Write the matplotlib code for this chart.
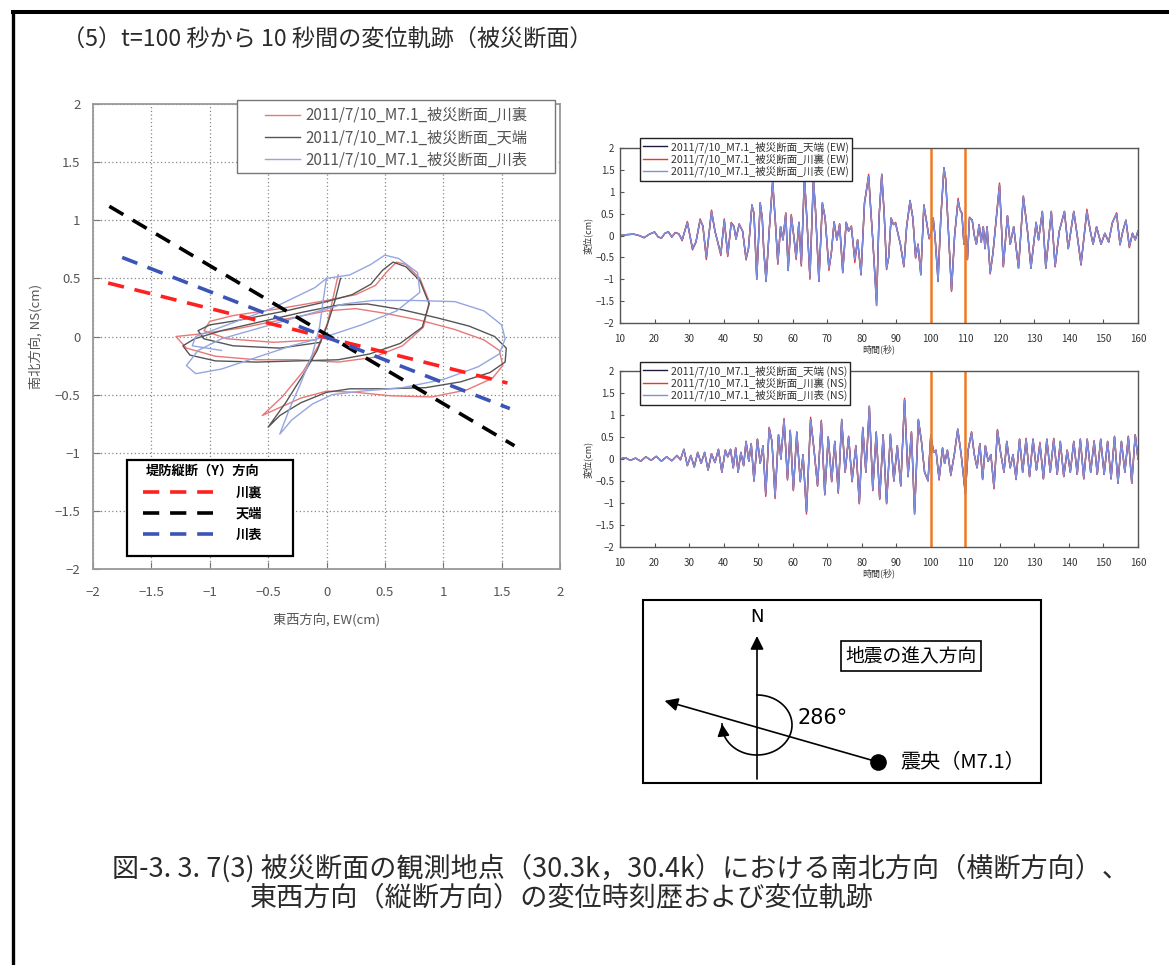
import numpy as np
import matplotlib
matplotlib.use('Agg')
import matplotlib.pyplot as plt
from matplotlib.lines import Line2D
from matplotlib.patches import Rectangle
from matplotlib.ticker import FuncFormatter, MultipleLocator

plt.rcParams['font.family'] = ['Noto Sans CJK JP', 'DejaVu Sans']
plt.rcParams['axes.unicode_minus'] = True

# ---------------- data ----------------
labels_traj = ['2011/7/10_M7.1_被災断面_川裏', '2011/7/10_M7.1_被災断面_天端', '2011/7/10_M7.1_被災断面_川表']
labels_dir = ['川裏', '天端', '川表']
dir_title = '堤防縦断（Y）方向'

# displacement trajectories t=100..110 s (EW, NS) [cm]
traj_kawaura_x = [0.10, 0.06, 0.01, -0.07, -0.20, -0.38, -0.55, -0.42, -0.22, 0.00, 0.25, 0.55, 0.90, 1.20,
                  1.42, 1.51, 1.48, 1.35, 1.10, 0.80, 0.50, 0.25, 0.00, -0.35, -0.75, -1.10, -1.29, -1.20,
                  -0.95, -0.60, -0.25, 0.10, 0.40, 0.65, 0.83, 0.88, 0.80, 0.68, 0.60, 0.52, 0.42, 0.25,
                  0.00, -0.40, -0.80, -1.00, -1.05, -0.85, -0.45, -0.10]
traj_kawaura_y = [0.53, 0.35, 0.12, -0.08, -0.30, -0.52, -0.68, -0.62, -0.53, -0.47, -0.48, -0.51, -0.52, -0.46,
                  -0.36, -0.25, -0.12, -0.03, 0.06, 0.14, 0.20, 0.24, 0.22, 0.15, 0.07, 0.02, 0.00, -0.10,
                  -0.17, -0.20, -0.20, -0.22, -0.18, -0.08, 0.08, 0.30, 0.50, 0.62, 0.64, 0.56, 0.44, 0.36,
                  0.31, 0.24, 0.18, 0.13, 0.05, -0.02, -0.05, -0.03]
traj_tenba_x = [0.12, 0.07, 0.00, -0.08, -0.20, -0.35, -0.50, -0.40, -0.22, 0.00, 0.20, 0.50, 0.85, 1.15,
                1.40, 1.53, 1.54, 1.44, 1.22, 0.95, 0.65, 0.35, 0.10, -0.20, -0.55, -0.90, -1.13, -1.23,
                -1.17, -0.95, -0.60, -0.25, 0.10, 0.37, 0.63, 0.82, 0.88, 0.80, 0.68, 0.57, 0.48, 0.38,
                0.22, 0.00, -0.35, -0.75, -1.00, -1.10, -1.05, -0.80, -0.40, -0.05]
traj_tenba_y = [0.50, 0.30, 0.08, -0.12, -0.33, -0.57, -0.78, -0.68, -0.57, -0.48, -0.45, -0.45, -0.44, -0.39,
                -0.31, -0.22, -0.10, 0.00, 0.09, 0.16, 0.23, 0.28, 0.27, 0.21, 0.13, 0.05, -0.02, -0.08,
                -0.16, -0.21, -0.22, -0.21, -0.20, -0.15, -0.06, 0.08, 0.28, 0.48, 0.60, 0.64, 0.57, 0.45,
                0.36, 0.30, 0.22, 0.14, 0.10, 0.05, -0.02, -0.08, -0.10, -0.05]
traj_kawaomote_x = [0.00, -0.03, -0.06, -0.12, -0.22, -0.32, -0.40, -0.30, -0.12, 0.05, 0.30, 0.65, 1.00, 1.30,
                    1.48, 1.53, 1.50, 1.35, 1.10, 0.75, 0.40, 0.15, -0.20, -0.55, -0.90, -1.10, -1.20, -1.12,
                    -0.90, -0.60, -0.30, 0.00, 0.30, 0.60, 0.80, 0.78, 0.62, 0.50, 0.38, 0.20, 0.00, -0.10,
                    -0.45, -0.85, -1.12, -1.15, -0.90]
traj_kawaomote_y = [0.50, 0.30, 0.08, -0.15, -0.40, -0.63, -0.84, -0.72, -0.58, -0.50, -0.47, -0.44, -0.37, -0.26,
                    -0.15, -0.02, 0.10, 0.22, 0.30, 0.31, 0.31, 0.28, 0.18, 0.08, -0.02, -0.12, -0.25, -0.32,
                    -0.28, -0.18, -0.08, 0.00, 0.10, 0.22, 0.38, 0.55, 0.67, 0.70, 0.62, 0.53, 0.50, 0.42,
                    0.25, 0.10, 0.00, -0.08, -0.12]

# embankment longitudinal (Y) direction lines: endpoints (EW, NS)
dir_kawaura_x = [-1.87, 1.55]
dir_kawaura_y = [0.46, -0.40]
dir_tenba_x = [-1.86, 1.61]
dir_tenba_y = [1.12, -0.94]
dir_kawaomote_x = [-1.75, 1.57]
dir_kawaomote_y = [0.68, -0.62]

# time histories
labels_ew = ['2011/7/10_M7.1_被災断面_天端 (EW)', '2011/7/10_M7.1_被災断面_川裏 (EW)', '2011/7/10_M7.1_被災断面_川表 (EW)']
labels_ns = ['2011/7/10_M7.1_被災断面_天端 (NS)', '2011/7/10_M7.1_被災断面_川裏 (NS)', '2011/7/10_M7.1_被災断面_川表 (NS)']
window = [100, 110]

t_ew = [10, 12, 14, 15.5, 17, 18.5, 20, 21, 22, 23,
        24, 25, 26, 27, 28, 29.5, 31, 32, 33.2, 34,
        35, 36.5, 37.5, 38.3, 39.2, 40.2, 41.2, 42.2, 43, 43.6,
        44.5, 45.5, 46.5, 47.2, 48.2, 48.8, 49.6, 50.6, 51.2, 51.6,
        52.3, 53.2, 54.2, 55, 55.7, 56.5, 57.2, 58, 58.7, 59.6,
        60.3, 61, 61.8, 62.5, 63.4, 64.1, 65, 66, 66.6, 67.6,
        68.6, 69.4, 70.5, 71.2, 72, 72.8, 73.6, 74.5, 75.5, 76.2,
        77, 78, 78.8, 79.8, 80.8, 82, 82.6, 83.2, 84.3, 85,
        85.8, 86.5, 87.2, 87.8, 88.5, 89.2, 89.8, 90.6, 91.2, 92.2,
        93, 94, 94.8, 95.6, 96.3, 97.1, 98, 98.8, 99.5, 100.1,
        100.7, 101.2, 102.1, 102.9, 103.8, 104.3, 105.1, 106, 106.9, 107.9,
        108.4, 109, 109.6, 110.1, 110.6, 111.2, 112, 112.6, 113.2, 114,
        114.6, 115.2, 115.7, 116.3, 117.2, 118, 119.9, 121, 122.2, 123,
        124, 125.4, 126.8, 128, 129, 130.5, 131.2, 132.3, 133.3, 134.9,
        136, 137.2, 138.7, 139.8, 141.4, 142.4, 143.5, 145.2, 146.2, 147,
        148, 149.3, 150.4, 151.5, 152.6, 153.8, 154.8, 155.6, 156.5, 157.5,
        158.4, 159.2, 160]
ew_tenba = [0.00, 0.02, 0.03, 0.00, -0.05, 0.03, 0.08, -0.03, -0.06, 0.05,
            0.08, -0.03, 0.06, 0.04, -0.10, 0.30, -0.30, -0.15, 0.35, 0.22,
            -0.50, 0.55, 0.10, -0.15, -0.42, 0.35, -0.45, 0.28, 0.20, -0.08,
            0.25, 0.10, -0.52, -0.30, 0.70, 0.50, -1.00, 0.75, 0.40, -0.30,
            -1.05, 0.10, 1.25, 0.30, -0.62, 0.20, -0.10, 0.50, -0.80, 0.45,
            0.00, -0.50, 0.30, -0.65, 1.35, 0.40, -0.95, 1.30, 0.60, -1.05,
            0.75, 0.40, -0.75, -0.40, 0.30, -0.10, 0.25, -0.85, 0.30, 0.10,
            0.20, -0.55, -0.10, -0.90, 0.75, 1.35, 0.60, -0.10, -1.60, 0.40,
            1.40, 0.50, -0.75, -0.50, 0.40, 0.25, 0.28, 0.00, -0.20, -0.70,
            0.20, 0.80, 0.40, -0.50, -0.20, -0.90, 0.70, 0.30, -0.05, 0.05,
            0.40, 0.00, -1.05, 0.40, 1.55, 1.30, 0.10, -1.25, 0.00, 0.80,
            0.60, 0.50, -0.20, 0.00, -0.55, 0.40, 0.35, 0.00, -0.20, 0.25,
            -0.15, 0.20, -0.30, 0.20, -0.85, -0.40, 1.15, -0.70, 0.45, -0.20,
            0.20, -0.75, 0.90, 0.10, -0.75, 0.30, -0.10, 0.55, -0.75, 0.55,
            -0.70, 0.10, 0.55, -0.30, 0.55, 0.00, -0.65, 0.55, 0.10, -0.20,
            0.20, -0.20, 0.05, -0.15, 0.30, 0.50, -0.20, 0.10, 0.35, -0.25,
            0.05, -0.10, 0.10]
ew_kawaura = [0.00, 0.02, 0.03, 0.00, -0.05, 0.03, 0.08, -0.03, -0.06, 0.05,
              0.09, -0.04, 0.07, 0.04, -0.12, 0.32, -0.33, -0.15, 0.38, 0.22,
              -0.55, 0.58, 0.10, -0.15, -0.46, 0.38, -0.48, 0.30, 0.22, -0.08,
              0.27, 0.10, -0.56, -0.30, 0.66, 0.52, -0.95, 0.68, 0.40, -0.30,
              -1.00, 0.10, 1.18, 0.30, -0.66, 0.20, -0.10, 0.52, -0.72, 0.48,
              0.00, -0.55, 0.30, -0.70, 1.28, 0.40, -1.00, 1.22, 0.60, -1.00,
              0.72, 0.40, -0.80, -0.40, 0.32, -0.10, 0.27, -0.82, 0.30, 0.10,
              0.22, -0.62, -0.10, -0.85, 0.72, 1.40, 0.62, -0.10, -1.45, 0.40,
              1.38, 0.50, -0.78, -0.50, 0.38, 0.25, 0.30, 0.00, -0.20, -0.72,
              0.20, 0.78, 0.40, -0.52, -0.20, -0.85, 0.66, 0.30, -0.08, 0.05,
              0.35, 0.00, -0.95, 0.40, 1.50, 1.28, 0.10, -1.28, 0.00, 0.85,
              0.60, 0.52, -0.20, 0.00, -0.55, 0.42, 0.35, 0.00, -0.20, 0.25,
              -0.15, 0.20, -0.30, 0.20, -0.88, -0.40, 1.20, -0.72, 0.45, -0.20,
              0.20, -0.72, 0.88, 0.10, -0.72, 0.30, -0.10, 0.55, -0.72, 0.55,
              -0.72, 0.10, 0.55, -0.30, 0.55, 0.00, -0.68, 0.60, 0.10, -0.20,
              0.20, -0.20, 0.05, -0.15, 0.30, 0.52, -0.22, 0.10, 0.35, -0.28,
              0.05, -0.10, 0.10]
ew_kawaomote = list(ew_tenba)   # 川表 trace coincides with 天端 in the picture

t_ns = [10, 11.5, 13, 14.5, 16, 17.5, 19, 20.5, 22, 23.5,
        25, 26.5, 27.5, 28.5, 29.5, 30.5, 31.5, 32.5, 33.5, 34.5,
        35.5, 36.5, 37.5, 38.5, 39.5, 40.5, 41.2, 42, 42.8, 43.5,
        44.2, 45, 45.8, 46.5, 47.3, 48, 48.8, 49.8, 50.6, 51.4,
        52.2, 53.2, 54, 54.9, 55.9, 56.6, 57.5, 58.5, 59.3, 60.2,
        61.2, 62.2, 63, 64, 65.2, 66.2, 67.2, 68.3, 69.3, 70.3,
        71.3, 72.2, 73.2, 74.2, 75.2, 76.2, 77.2, 78.3, 79.3, 80.3,
        81.2, 82.2, 83.2, 84.2, 85.2, 86.2, 87.2, 88.3, 89.3, 90.3,
        91.3, 92.4, 93.4, 94.4, 95.3, 96.4, 97.3, 98.2, 99.2, 100,
        100.8, 101.5, 102.4, 103.4, 104, 104.8, 105.8, 106.8, 107.8, 108.8,
        110, 110.8, 111.8, 112.6, 113.4, 114.2, 115, 115.8, 116.6, 117.4,
        118.3, 119.3, 120.3, 121.2, 122, 123, 123.8, 124.7, 125.7, 126.6,
        127.6, 128.6, 129.6, 130.6, 131.6, 132.6, 133.6, 134.6, 135.6, 136.6,
        137.5, 138.5, 139.5, 140.4, 141.4, 142.4, 143.3, 144.3, 145.3, 146.3,
        147.3, 148.2, 149.2, 150.2, 151.2, 152.2, 153.2, 154.2, 155.2, 156.2,
        157.2, 158.2, 159.2, 160]
ns_tenba = [0.00, 0.03, -0.03, 0.02, -0.05, 0.05, -0.03, 0.06, -0.05, 0.05,
            -0.04, 0.08, -0.02, 0.22, -0.15, 0.08, -0.18, 0.15, -0.10, 0.15,
            -0.25, 0.12, -0.08, 0.22, -0.30, 0.20, 0.05, 0.22, -0.20, 0.25,
            -0.30, 0.15, -0.15, 0.40, -0.05, 0.35, -0.50, 0.45, -0.10, 0.30,
            -0.80, 0.70, 0.40, -0.85, 0.55, 0.00, 0.90, -0.45, 0.65, -0.70,
            0.60, -0.50, 0.10, -1.20, 0.90, 0.20, -0.60, 0.85, -0.80, 0.50,
            -0.50, 0.40, -0.75, 0.90, -0.30, 0.50, -0.50, 0.30, -1.00, 0.70,
            -0.30, 1.20, -0.70, 0.60, -0.90, 0.55, -1.00, 0.55, -0.50, 0.30,
            -0.60, 1.35, -0.40, 0.60, -1.25, 0.90, 0.40, -0.30, -0.50, 0.55,
            0.15, 0.20, -0.45, 0.25, -0.10, 0.20, -0.35, 0.10, 0.68, 0.10,
            -0.80, 0.20, 0.60, 0.10, -0.20, 0.35, -0.45, 0.30, -0.05, 0.10,
            -0.65, 0.65, 0.10, -0.30, 0.40, -0.20, 0.10, -0.45, 0.45, -0.30,
            0.45, -0.40, 0.45, -0.25, 0.35, -0.45, 0.45, -0.30, 0.45, -0.35,
            0.40, -0.40, 0.20, -0.30, 0.40, -0.35, 0.45, -0.45, 0.45, -0.30,
            0.40, -0.35, 0.45, -0.35, 0.40, -0.45, 0.50, -0.55, 0.40, -0.30,
            0.50, -0.55, 0.55, 0.00]
ns_kawaura = [0.00, 0.03, -0.03, 0.02, -0.05, 0.05, -0.03, 0.06, -0.05, 0.05,
              -0.04, 0.08, -0.02, 0.22, -0.15, 0.08, -0.18, 0.15, -0.10, 0.15,
              -0.25, 0.12, -0.08, 0.22, -0.30, 0.20, 0.05, 0.22, -0.20, 0.25,
              -0.30, 0.15, -0.15, 0.40, -0.05, 0.35, -0.50, 0.45, -0.10, 0.30,
              -0.85, 0.72, 0.40, -0.90, 0.55, 0.00, 0.92, -0.48, 0.65, -0.72,
              0.62, -0.52, 0.10, -1.25, 0.95, 0.20, -0.62, 0.88, -0.82, 0.50,
              -0.52, 0.40, -0.78, 0.85, -0.30, 0.52, -0.52, 0.30, -1.02, 0.72,
              -0.30, 1.18, -0.72, 0.62, -0.92, 0.55, -1.02, 0.57, -0.50, 0.30,
              -0.62, 1.38, -0.40, 0.62, -1.20, 0.88, 0.40, -0.30, -0.48, 0.52,
              0.15, 0.20, -0.48, 0.25, -0.10, 0.20, -0.38, 0.10, 0.66, 0.10,
              -0.75, 0.20, 0.62, 0.10, -0.20, 0.35, -0.47, 0.30, -0.05, 0.10,
              -0.68, 0.67, 0.10, -0.30, 0.40, -0.20, 0.10, -0.47, 0.45, -0.30,
              0.47, -0.40, 0.45, -0.25, 0.38, -0.45, 0.45, -0.30, 0.47, -0.35,
              0.40, -0.40, 0.20, -0.30, 0.40, -0.35, 0.45, -0.45, 0.45, -0.30,
              0.42, -0.35, 0.45, -0.35, 0.40, -0.45, 0.52, -0.55, 0.40, -0.30,
              0.52, -0.55, 0.55, 0.00]
ns_kawaomote = list(ns_tenba)   # 川表 trace coincides with 天端 in the picture

# epicentre direction
approach_azimuth = 286

title_text = '（5）t=100 秒から 10 秒間の変位軌跡（被災断面）'
caption1 = '図-3. 3. 7(3) 被災断面の観測地点（30.3k，30.4k）における南北方向（横断方向）、'
caption2 = '東西方向（縦断方向）の変位時刻歴および変位軌跡'

# ---------------- layout helpers ----------------
W, H = 1169, 965
fig = plt.figure(figsize=(W / 100, H / 100), dpi=100)


def fx(px):
    return px / W


def fy(py):
    return 1 - py / H


def rect(l, t, r, b):
    return [fx(l), fy(b), (r - l) / W, (b - t) / H]


def frame_box(l, t, r, b, ec, lw):
    fig.add_artist(Rectangle((fx(l), fy(b)), (r - l) / W, (b - t) / H, transform=fig.transFigure,
                             facecolor='white', edgecolor=ec, lw=lw, zorder=4))


def mfmt(v, pos):
    return f'{v:g}'.replace('-', '\u2212')


# ---------------- frame lines ----------------
fig.add_artist(Line2D([fx(13), fx(13)], [fy(12), 0], lw=2.4, color='black', transform=fig.transFigure))
fig.add_artist(Line2D([fx(13), 1], [fy(12), fy(12)], lw=2.9, color='black', transform=fig.transFigure))

fig.text(fx(62), fy(40), title_text, fontsize=16.7, color='#2a2a2a', ha='left', va='center')

# ---------------- trajectory plot ----------------
ax = fig.add_axes(rect(93, 104, 560, 569))
ax.set_xlim(-2, 2)
ax.set_ylim(-2, 2)
ax.xaxis.set_major_locator(MultipleLocator(0.5))
ax.yaxis.set_major_locator(MultipleLocator(0.5))
ax.xaxis.set_major_formatter(FuncFormatter(mfmt))
ax.yaxis.set_major_formatter(FuncFormatter(mfmt))
ax.grid(True, linestyle=(0, (1, 2)), color='#888888', lw=0.9)
for s in ax.spines.values():
    s.set_color('#999999')
    s.set_linewidth(1.3)
ax.tick_params(direction='in', length=5, color='#777777', labelcolor='#555555', labelsize=9.5)
ax.tick_params(axis='x', pad=12)
ax.tick_params(axis='y', pad=9)

l_r, = ax.plot(traj_kawaura_x, traj_kawaura_y, color='#e87878', lw=1.0)
l_k, = ax.plot(traj_tenba_x, traj_tenba_y, color='#555555', lw=1.0)
l_b, = ax.plot(traj_kawaomote_x, traj_kawaomote_y, color='#95a5e0', lw=1.0)

d_r, = ax.plot(dir_kawaura_x, dir_kawaura_y, color='#ff2020', lw=2.6, dashes=(4.5, 3))
d_k, = ax.plot(dir_tenba_x, dir_tenba_y, color='#000000', lw=2.6, dashes=(4.5, 3))
d_b, = ax.plot(dir_kawaomote_x, dir_kawaomote_y, color='#3a55b5', lw=2.6, dashes=(4.5, 3))

ax.set_xlabel('東西方向, EW(cm)', fontsize=9.5, color='#555555')
ax.set_ylabel('南北方向, NS(cm)', fontsize=9.5, color='#555555')
ax.xaxis.set_label_coords(0.5, -0.095)
ax.yaxis.set_label_coords(-0.108, 0.5)

# legend 1 (trajectories) with its own frame
frame_box(237, 100, 555, 173, '#777777', 1.0)
fig.legend([l_r, l_k, l_b], labels_traj, loc='upper left',
           bbox_to_anchor=(fx(265), fy(107)), bbox_transform=fig.transFigure,
           borderaxespad=0, borderpad=0, frameon=False, fontsize=11,
           labelcolor='#555555', handlelength=2.3, handletextpad=0.35, labelspacing=0.33)

# legend 2 (embankment direction) with its own frame
frame_box(127, 460, 293, 556, 'black', 1.6)
fig.legend([d_r, d_k, d_b], labels_dir, title=dir_title, loc='upper left',
           bbox_to_anchor=(fx(143), fy(464)), bbox_transform=fig.transFigure,
           borderaxespad=0, borderpad=0, frameon=False,
           prop={'size': 9.5, 'weight': 'bold'},
           title_fontproperties={'size': 9.5, 'weight': 'bold'},
           handlelength=5.3, handletextpad=1.75, labelspacing=0.55)

# ---------------- time histories ----------------
def ts_panel(box, t, black, red, blue, labels, legend_top):
    a = fig.add_axes(rect(*box))
    lk, = a.plot(t, black, color='#1c1c40', lw=1.0)
    lr, = a.plot(t, red, color='#e83535', lw=1.0)
    lb, = a.plot(t, blue, color='#7d8fe0', lw=1.0)
    for w in window:
        a.axvline(w, color='#f07a22', lw=1.8)
    a.set_xlim(10, 160)
    a.set_ylim(-2, 2)
    a.xaxis.set_major_locator(MultipleLocator(10))
    a.yaxis.set_major_locator(MultipleLocator(0.5))
    a.xaxis.set_major_formatter(FuncFormatter(mfmt))
    a.yaxis.set_major_formatter(FuncFormatter(mfmt))
    for s in a.spines.values():
        s.set_color('#555555')
        s.set_linewidth(1.0)
    a.tick_params(direction='in', length=3, color='#555555', labelcolor='#333333', labelsize=7)
    a.tick_params(axis='x', pad=8)
    a.tick_params(axis='y', pad=4)
    a.set_xlabel('時間(秒)', fontsize=6.5, color='#333333', labelpad=0)
    a.set_ylabel('変位(cm)', fontsize=6.5, color='#333333', labelpad=2)
    lg = fig.legend([lk, lr, lb], labels, loc='upper left',
                    bbox_to_anchor=(fx(640), fy(legend_top)), bbox_transform=fig.transFigure,
                    borderaxespad=0, fontsize=7.6, fancybox=False, framealpha=1,
                    edgecolor='#222222', labelcolor='#333333', handlelength=2.3,
                    labelspacing=0.08, borderpad=0.3, handletextpad=0.3)
    lg.get_frame().set_linewidth(1.0)
    return a


ax_ew = ts_panel((620, 148, 1138, 323), t_ew, ew_tenba, ew_kawaura, ew_kawaomote, labels_ew, 138)
ax_ns = ts_panel((620, 371, 1138, 547), t_ns, ns_tenba, ns_kawaura, ns_kawaomote, labels_ns, 362)

# ---------------- epicentre direction diagram ----------------
axc = fig.add_axes(rect(643, 600, 1041, 783))
axc.set_xlim(643, 1041)
axc.set_ylim(783, 600)
axc.axis('off')
axc.add_patch(Rectangle((643, 600), 398, 183, fill=False, lw=1.5, edgecolor='black', clip_on=False))

cx, cy = 757, 725
axc.annotate('', xy=(cx, 636), xytext=(cx, 779),
             arrowprops=dict(arrowstyle='-|>', color='black', lw=1.2, mutation_scale=20, shrinkA=0, shrinkB=0))
axc.text(cx, 617, 'N', fontsize=13, ha='center', va='center', family='DejaVu Sans')

ex, ey = 878, 762
az = np.deg2rad(approach_azimuth)
length = 222
tipx, tipy = ex + length * np.sin(az), ey - length * np.cos(az)
axc.annotate('', xy=(tipx, tipy), xytext=(ex, ey),
             arrowprops=dict(arrowstyle='-|>', color='black', lw=1.2, mutation_scale=20, shrinkA=0, shrinkB=0))
axc.plot([ex], [ey], 'o', color='black', ms=11)

rx, ry = 35, 30
th = np.deg2rad(np.linspace(0, approach_azimuth - 14, 120))
axc.plot(cx + rx * np.sin(th), cy - ry * np.cos(th), color='black', lw=1.2)
th1, th2 = np.deg2rad(approach_azimuth - 30), np.deg2rad(approach_azimuth - 14)
axc.annotate('', xy=(cx + rx * np.sin(th2), cy - ry * np.cos(th2)),
             xytext=(cx + rx * np.sin(th1), cy - ry * np.cos(th1)),
             arrowprops=dict(arrowstyle='-|>', color='black', lw=1.2, mutation_scale=18, shrinkA=0, shrinkB=0))

axc.text(823, 718, f'{approach_azimuth}°', fontsize=15, ha='center', va='center', family='DejaVu Sans')
axc.text(911, 656, '地震の進入方向', fontsize=13.5, ha='center', va='center',
         bbox=dict(boxstyle='square,pad=0.25', fc='white', ec='black', lw=1.2))
axc.text(900, 763, '震央（M7.1）', fontsize=14.5, ha='left', va='center')

# ---------------- caption ----------------
fig.text(fx(112), fy(868), caption1, fontsize=19.5, color='#2a2a2a', ha='left', va='center')
fig.text(fx(250), fy(898), caption2, fontsize=19.5, color='#2a2a2a', ha='left', va='center')

fig.savefig('out.png', dpi=100)
